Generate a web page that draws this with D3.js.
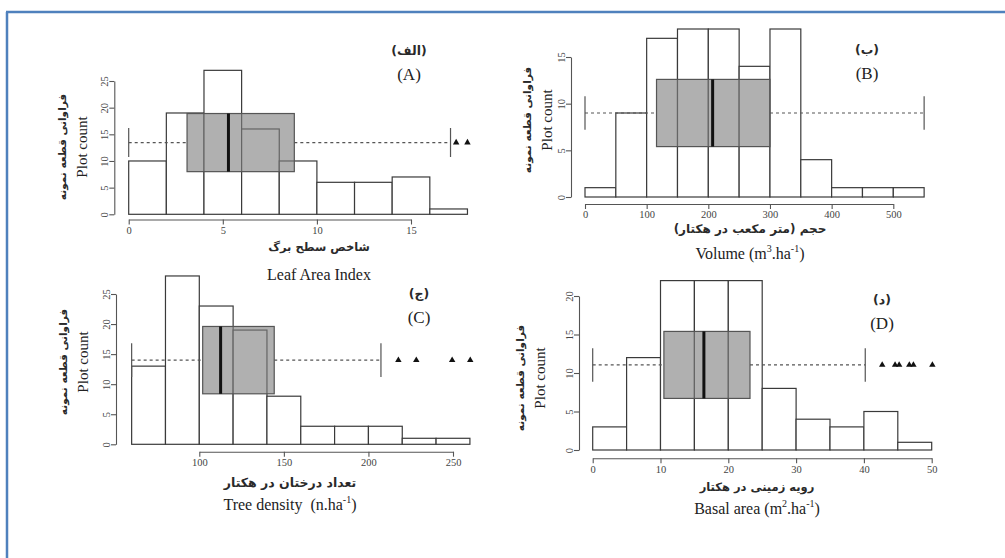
<!DOCTYPE html>
<html>
<head>
<meta charset="utf-8">
<script src="https://cdn.jsdelivr.net/npm/d3@7"></script>
<style>
    body { margin: 0; background: #fff; }
    .latin { font-family: 'Liberation Serif', serif; fill: #222; white-space: pre; }
    .persian { font-family: 'DejaVu Sans', sans-serif; font-weight: bold; fill: #2a2a2a; }
</style>
</head>
<body>
<div id="wrapper"></div>
<script>
// Leaf area index (A)
const laiEdges = [0, 2, 4, 6, 8, 10, 12, 14, 16, 18];
const laiCounts = [10, 19, 27, 16, 10, 6, 6, 7, 1];
const laiBox = [0, 3.1, 5.3, 8.8, 17.1];
const laiOutliers = [17.4, 18.0];
const laiXTicks = [0, 5, 10, 15];
const laiYTicks = [0, 5, 10, 15, 20, 25];

// Volume (B)
const volEdges = [0, 50, 100, 150, 200, 250, 300, 350, 400, 450, 500, 550];
const volCounts = [1, 9, 17, 18, 18, 14, 18, 4, 1, 1, 1];
const volBox = [0, 116, 207, 300, 550];
const volOutliers = [];
const volXTicks = [0, 100, 200, 300, 400, 500];
const volYTicks = [0, 5, 10, 15];

// Tree density (C)
const denEdges = [60, 80, 100, 120, 140, 160, 180, 200, 220, 240, 260];
const denCounts = [13, 28, 23, 19, 8, 3, 3, 3, 1, 1];
const denBox = [60, 102, 112.6, 144.3, 207.4];
const denOutliers = [217.7, 228.3, 249.5, 260.2];
const denXTicks = [100, 150, 200, 250];
const denYTicks = [0, 5, 10, 15, 20, 25];

// Basal area (D)
const baEdges = [0, 5, 10, 15, 20, 25, 30, 35, 40, 45, 50];
const baCounts = [3, 12, 22, 22, 22, 8, 4, 3, 5, 1];
const baBox = [0, 10.5, 16.4, 23.2, 40.2];
const baOutliers = [42.7, 44.6, 45.2, 46.7, 47.3, 50.1];
const baXTicks = [0, 10, 20, 30, 40, 50];
const baYTicks = [0, 5, 10, 15, 20];

const svg = d3.select('#wrapper')
    .append('svg')
    .attr('width', 1005)
    .attr('height', 558);

svg.append('rect').attr('width', 1005).attr('height', 558).attr('fill', '#fff');

// frame (only top and left edges show)
svg.append('path')
    .attr('d', 'M6,12 H1005 M7,12 V558')
    .attr('fill', 'none')
    .attr('stroke', '#4F81BD')
    .attr('stroke-width', 2.5);

function drawPanel(p) {
    const g = svg.append('g');

    const xScale = d3.scaleLinear().domain(p.xDomain).range(p.xRange);
    const yScale = d3.scaleLinear().domain(p.yDomain).range(p.yRange);

    const bins = p.counts.map((c, i) => ({ x0: p.edges[i], x1: p.edges[i + 1], count: c }));

    // histogram bars
    g.selectAll('rect.bar')
        .data(bins)
        .join('rect')
        .attr('class', 'bar')
        .attr('x', d => xScale(d.x0))
        .attr('width', d => xScale(d.x1) - xScale(d.x0))
        .attr('y', d => yScale(d.count))
        .attr('height', d => yScale(0) - yScale(d.count))
        .attr('fill', '#fff')
        .attr('stroke', '#3a3a3a')
        .attr('stroke-width', 1.2);

    // boxplot, laid horizontally at count = p.at
    const [lo, q1, med, q3, hi] = p.box;
    const yc = yScale(p.at);
    const yTop = yScale(p.at + p.half);
    const yBot = yScale(p.at - p.half);
    const capTop = yScale(p.at + p.half / 2);
    const capBot = yScale(p.at - p.half / 2);

    g.append('path')
        .attr('d', `M${xScale(lo)},${yc} H${xScale(q1)} M${xScale(q3)},${yc} H${xScale(hi)}`)
        .attr('stroke', '#555')
        .attr('stroke-width', 1.1)
        .attr('stroke-dasharray', '3 3');

    g.append('path')
        .attr('d', `M${xScale(lo)},${capTop} V${capBot} M${xScale(hi)},${capTop} V${capBot}`)
        .attr('stroke', '#555')
        .attr('stroke-width', 1.2);

    g.append('rect')
        .attr('x', xScale(q1))
        .attr('width', xScale(q3) - xScale(q1))
        .attr('y', yTop)
        .attr('height', yBot - yTop)
        .attr('fill', '#808080')
        .attr('fill-opacity', 0.62)
        .attr('stroke', '#555')
        .attr('stroke-width', 1.2);

    g.append('line')
        .attr('x1', xScale(med)).attr('x2', xScale(med))
        .attr('y1', yTop).attr('y2', yBot)
        .attr('stroke', '#111')
        .attr('stroke-width', 3);

    g.selectAll('path.outlier')
        .data(p.outliers)
        .join('path')
        .attr('class', 'outlier')
        .attr('d', d3.symbol(d3.symbolTriangle, 18))
        .attr('transform', d => `translate(${xScale(d)},${yc})`)
        .attr('fill', '#111');

    // axes
    const xAxis = g.append('g')
        .attr('transform', `translate(0,${p.xAxisY})`)
        .call(d3.axisBottom(xScale).tickValues(p.xTicks).tickSize(5).tickSizeOuter(0).tickPadding(2));

    const yAxis = g.append('g')
        .attr('transform', `translate(${p.yAxisX},0)`)
        .call(d3.axisLeft(yScale).tickValues(p.yTicks).tickSize(5).tickSizeOuter(0));

    [xAxis, yAxis].forEach(ax => {
        ax.attr('font-family', 'Liberation Serif').attr('font-size', 10.5);
        ax.select('.domain').attr('stroke', '#555').attr('stroke-width', 1.1);
        ax.selectAll('.tick line').attr('stroke', '#555').attr('stroke-width', 1.1);
        ax.selectAll('.tick text').attr('fill', '#444');
    });

    yAxis.selectAll('.tick text')
        .attr('transform', 'rotate(-90)')
        .attr('text-anchor', 'middle')
        .attr('x', 0)
        .attr('y', -6)
        .attr('dy', 0);

    // panel letter
    g.append('text')
        .attr('class', 'persian')
        .attr('x', p.letterX).attr('y', p.letterY)
        .attr('text-anchor', 'middle')
        .attr('dominant-baseline', 'central')
        .attr('font-size', 12.5)
        .text(p.letterFa);

    g.append('text')
        .attr('class', 'latin')
        .attr('x', p.letterX).attr('y', p.letterY + 24)
        .attr('text-anchor', 'middle')
        .attr('dominant-baseline', 'central')
        .attr('font-size', 17)
        .text(p.letter);

    // y labels
    g.append('text')
        .attr('class', 'persian')
        .attr('transform', `translate(${p.yLabelX},${p.yLabelY}) rotate(-90)`)
        .attr('text-anchor', 'middle')
        .attr('dominant-baseline', 'central')
        .attr('font-size', 10.5)
        .text('فراوانی قطعه نمونه');

    g.append('text')
        .attr('class', 'latin')
        .attr('transform', `translate(${p.yLabelX + 20},${p.yLabelY}) rotate(-90)`)
        .attr('text-anchor', 'middle')
        .attr('dominant-baseline', 'central')
        .attr('font-size', 15)
        .text('Plot count');

    // x labels
    g.append('text')
        .attr('class', 'persian')
        .attr('x', p.xLabelX).attr('y', p.xLabelY)
        .attr('text-anchor', 'middle')
        .attr('dominant-baseline', 'central')
        .attr('font-size', p.xLabelFaSize)
        .text(p.xLabelFa);

    const en = g.append('text')
        .attr('class', 'latin')
        .attr('x', p.xLabelX).attr('y', p.xLabelY + p.xLabelGap)
        .attr('text-anchor', 'middle')
        .attr('dominant-baseline', 'central')
        .attr('font-size', 16);

    let shift = 0;
    p.xLabelEn.forEach(part => {
        const ts = en.append('tspan');
        if (part.sup) {
            ts.attr('font-size', 10).attr('dy', -5 - shift).text(part.sup);
            shift = -5;
        } else {
            ts.attr('dy', -shift).text(part.t);
            shift = 0;
        }
    });
}

drawPanel({
    edges: laiEdges, counts: laiCounts, box: laiBox, outliers: laiOutliers,
    at: 13.45, half: 5.45,
    xTicks: laiXTicks, yTicks: laiYTicks,
    xDomain: [0, 15], xRange: [128.7, 411],
    yDomain: [0, 25], yRange: [214.3, 81],
    xAxisY: 219.5, yAxisX: 114.3,
    letterFa: '(الف)', letter: '(A)', letterX: 409, letterY: 50,
    yLabelX: 62, yLabelY: 147,
    xLabelX: 319, xLabelY: 247, xLabelGap: 27,
    xLabelFa: 'شاخص سطح برگ', xLabelFaSize: 11.5,
    xLabelEn: [{ t: 'Leaf Area Index' }]
});

drawPanel({
    edges: volEdges, counts: volCounts, box: volBox, outliers: volOutliers,
    at: 9.0, half: 3.6,
    xTicks: volXTicks, yTicks: volYTicks,
    xDomain: [0, 500], xRange: [585, 893.3],
    yDomain: [0, 15], yRange: [197, 57],
    xAxisY: 204, yAxisX: 571,
    letterFa: '(ب)', letter: '(B)', letterX: 867, letterY: 49,
    yLabelX: 527, yLabelY: 120,
    xLabelX: 750, xLabelY: 229, xLabelGap: 24,
    xLabelFa: 'حجم (متر مکعب در هکتار)', xLabelFaSize: 12,
    xLabelEn: [{ t: 'Volume (m' }, { sup: '3' }, { t: '.ha' }, { sup: '-1' }, { t: ')' }]
});

drawPanel({
    edges: denEdges, counts: denCounts, box: denBox, outliers: denOutliers,
    at: 14.0, half: 5.6,
    xTicks: denXTicks, yTicks: denYTicks,
    xDomain: [100, 250], xRange: [199.3, 453],
    yDomain: [0, 25], yRange: [444.3, 294],
    xAxisY: 451.7, yAxisX: 116,
    letterFa: '(ج)', letter: '(C)', letterX: 419, letterY: 293,
    yLabelX: 63, yLabelY: 362,
    xLabelX: 290, xLabelY: 482, xLabelGap: 22,
    xLabelFa: 'تعداد درختان در هکتار', xLabelFaSize: 12.5,
    xLabelEn: [{ t: 'Tree density  (n.ha' }, { sup: '-1' }, { t: ')' }]
});

drawPanel({
    edges: baEdges, counts: baCounts, box: baBox, outliers: baOutliers,
    at: 11.05, half: 4.35,
    xTicks: baXTicks, yTicks: baYTicks,
    xDomain: [0, 50], xRange: [592.7, 931.7],
    yDomain: [0, 20], yRange: [450, 296],
    xAxisY: 458.3, yAxisX: 579,
    letterFa: '(د)', letter: '(D)', letterX: 882, letterY: 299,
    yLabelX: 520, yLabelY: 378,
    xLabelX: 757, xLabelY: 487, xLabelGap: 21,
    xLabelFa: 'رویه زمینی در هکتار', xLabelFaSize: 11.5,
    xLabelEn: [{ t: 'Basal area (m' }, { sup: '2' }, { t: '.ha' }, { sup: '-1' }, { t: ')' }]
});
</script>
</body>
</html>
